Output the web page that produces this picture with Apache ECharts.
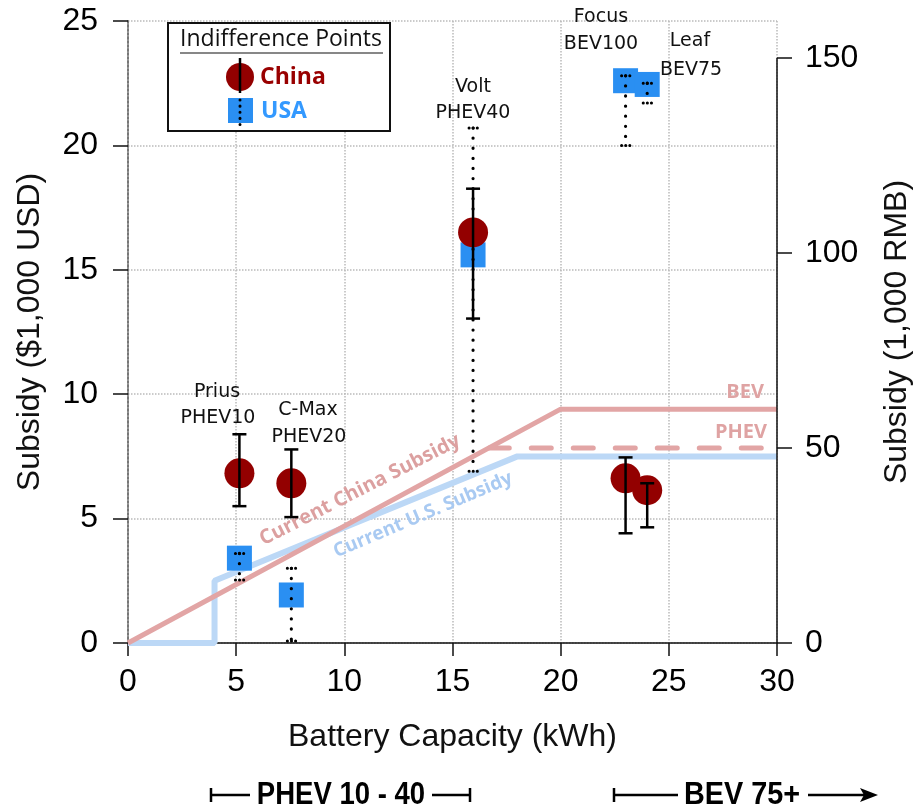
<!DOCTYPE html>
<html>
<head>
<meta charset="utf-8">
<script src="https://cdn.jsdelivr.net/npm/echarts@6/dist/echarts.min.js"></script>
<style>
  html, body { margin: 0; padding: 0; background: #fff; }
  #chart { width: 915px; height: 807px; }
</style>
</head>
<body>
<div id="chart"></div>
<script>
// vehicles, battery size (kWh)
const models     = ['Prius PHEV10', 'C-Max PHEV20', 'Volt PHEV40', 'Focus BEV100', 'Leaf BEV75'];
const batteryKWh = [5.15, 7.55, 15.95, 23.0, 24.0];

// China indifference points ($1,000 USD) with error bars
const chinaMid  = [6.82, 6.42, 16.5, 6.62, 6.14];
const chinaLow  = [5.5, 5.06, 13.04, 4.41, 4.65];
const chinaHigh = [8.39, 7.78, 18.26, 7.46, 6.42];

// USA indifference points with dotted ranges
const usaMid  = [3.41, 1.93, 15.6, 22.6, 22.45];
const usaLow  = [2.53, 0.08, 6.9, 20.0, 21.7];
const usaHigh = [3.6, 3.0, 20.7, 22.8, 22.5];

// current subsidy schedules
const chinaBEV  = [[0, 0], [20, 9.4], [30, 9.4]];
const chinaPHEV = [[16.7, 7.84], [30, 7.84]];
const usSubsidy = [[0, 0], [4, 0], [4, 2.5], [18, 7.5], [30, 7.5]];

// axis ticks
const xTicks   = [0, 30, 5];
const usdTicks = [0, 25, 5];
const rmbRange = [0, 159.5];
const rmbTickValues = [0, 50, 100, 150];
const rmbAxisSpan = [[30, 0], [30, 150]];

const chart = echarts.init(document.getElementById('chart'));

const axisFont = 'Liberation Sans';
const noteFont = 'DejaVu Sans';

function errorBars(params, api) {
    const x = api.value(0);
    const top = api.coord([x, api.value(2)]);
    const bot = api.coord([x, api.value(1)]);
    const st = { stroke: '#000', lineWidth: 2.5 };
    const w = 7;
    return { type: 'group', children: [
        { type: 'line', shape: { x1: top[0], y1: top[1], x2: bot[0], y2: bot[1] }, style: st },
        { type: 'line', shape: { x1: top[0] - w, y1: top[1], x2: top[0] + w, y2: top[1] }, style: st },
        { type: 'line', shape: { x1: bot[0] - w, y1: bot[1], x2: bot[0] + w, y2: bot[1] }, style: st }
    ]};
}

function dottedRanges(params, api) {
    const x = api.value(0);
    const top = api.coord([x, api.value(2)]);
    const bot = api.coord([x, api.value(1)]);
    const dots = { stroke: '#000', lineWidth: 3.2, lineCap: 'round', lineDash: [0.1, 10] };
    const cap = { stroke: '#000', lineWidth: 3, lineCap: 'round', lineDash: [0.1, 4] };
    return { type: 'group', children: [
        { type: 'line', shape: { x1: top[0], y1: top[1], x2: bot[0], y2: bot[1] }, style: dots },
        { type: 'line', shape: { x1: top[0] - 4, y1: top[1], x2: top[0] + 5, y2: top[1] }, style: cap },
        { type: 'line', shape: { x1: bot[0] - 4, y1: bot[1], x2: bot[0] + 5, y2: bot[1] }, style: cap }
    ]};
}

const chinaPts = batteryKWh.map((x, i) => [x, chinaMid[i]]);
const usaPts   = batteryKWh.map((x, i) => [x, usaMid[i]]);
const chinaErr = batteryKWh.map((x, i) => [x, chinaLow[i], chinaHigh[i]]);
const usaRng   = batteryKWh.map((x, i) => [x, usaLow[i], usaHigh[i]]);

function note(text, x, y) {
    return {
        type: 'text', x: x, y: y, z: 50,
        style: { text: text, font: '19px "' + noteFont + '"', fill: '#111', align: 'center', verticalAlign: 'middle' }
    };
}

function bold(text, x, y, size, color, extra) {
    return Object.assign({
        type: 'text', x: x, y: y, z: 21,
        style: { text: text, font: 'bold ' + size + 'px "Open Sans"', fill: color, align: 'left', verticalAlign: 'middle' }
    }, extra || {});
}

const axisName = { fontFamily: axisFont, fontSize: 32, color: '#111' };
const tickLabel = { fontFamily: axisFont, fontSize: 32, color: '#000' };

const option = {
    animation: false,
    grid: { left: 128, right: 138, top: 21, bottom: 164, outerBoundsMode: 'none' },
    xAxis: {
        type: 'value', min: xTicks[0], max: xTicks[1], interval: xTicks[2],
        name: 'Battery Capacity (kWh)', nameLocation: 'middle', nameGap: 78,
        nameTextStyle: axisName,
        axisLine: { lineStyle: { color: '#111', width: 1.5 } },
        axisTick: { length: 13, lineStyle: { color: '#111', width: 1.5 } },
        axisLabel: Object.assign({ margin: 23 }, tickLabel),
        splitLine: { show: true, lineStyle: { type: 'dotted', color: '#bbb', width: 1.5 } }
    },
    yAxis: [{
        type: 'value', min: usdTicks[0], max: usdTicks[1], interval: usdTicks[2],
        name: 'Subsidy ($1,000 USD)', nameLocation: 'middle', nameGap: 82, nameRotate: 90,
        nameTextStyle: axisName,
        axisLine: { show: true, lineStyle: { color: '#777', width: 2, type: 'dotted' } },
        axisTick: { show: true, length: 15, lineStyle: { color: '#111', width: 1.5 } },
        axisLabel: Object.assign({ margin: 30 }, tickLabel),
        splitLine: { show: true, lineStyle: { type: 'dotted', color: '#bbb', width: 1.5 } }
    }, {
        type: 'value', position: 'right', min: rmbRange[0], max: rmbRange[1],
        name: 'Subsidy (1,000 RMB)', nameLocation: 'middle', nameGap: 104, nameRotate: 90,
        nameTextStyle: axisName,
        axisLine: { show: false },
        axisTick: { show: true, length: 15, customValues: rmbTickValues, lineStyle: { color: '#111', width: 1.5 } },
        axisLabel: Object.assign({ margin: 28, customValues: rmbTickValues }, tickLabel),
        splitLine: { show: false }
    }],
    series: [
        {
            type: 'line', data: rmbAxisSpan, yAxisIndex: 1, symbol: 'none', z: 3,
            lineStyle: { color: '#111', width: 1.5 }, silent: true
        },
        {
            name: 'US subsidy', type: 'line', data: usSubsidy, symbol: 'none', z: 2,
            lineStyle: { color: '#bcd8f6', width: 6 }
        },
        {
            name: 'China BEV', type: 'line', data: chinaBEV, symbol: 'none', z: 2,
            lineStyle: { color: '#e2a5a5', width: 5 }
        },
        {
            name: 'China PHEV', type: 'line', data: chinaPHEV, symbol: 'none', z: 2,
            lineStyle: { color: '#e2a5a5', width: 5, type: [20, 22], cap: 'round' }
        },
        {
            name: 'USA', type: 'scatter', data: usaPts, symbol: 'rect', symbolSize: 25, z: 5,
            itemStyle: { color: '#2a8ff2', opacity: 1 }
        },
        {
            name: 'USA range', type: 'custom', data: usaRng, renderItem: dottedRanges, z: 6
        },
        {
            name: 'China', type: 'scatter', data: chinaPts, symbol: 'circle', symbolSize: 30, z: 7,
            itemStyle: { color: '#930000', opacity: 1 }
        },
        {
            name: 'China error', type: 'custom', data: chinaErr, renderItem: errorBars, z: 8
        }
    ],
    graphic: [
        // model labels
        note('Prius', 217, 392), note('PHEV10', 218, 418),
        note('C-Max', 308, 410), note('PHEV20', 309, 437),
        note('Volt', 473, 87), note('PHEV40', 473, 113),
        note('Focus', 601, 17), note('BEV100', 601, 44),
        note('Leaf', 690, 41), note('BEV75', 691, 70),
        // subsidy annotations
        bold('BEV', 764, 392, 20, '#dfa3a3', { style: { text: 'BEV', font: 'bold 20px "Open Sans"', fill: '#dfa3a3', align: 'right', verticalAlign: 'middle' } }),
        bold('PHEV', 767, 432, 20, '#dfa3a3', { style: { text: 'PHEV', font: 'bold 20px "Open Sans"', fill: '#dfa3a3', align: 'right', verticalAlign: 'middle' } }),
        { type: 'text', x: 360, y: 490, rotation: 27 * Math.PI / 180, z: 3,
          style: { text: 'Current China Subsidy', font: 'bold 20px "Open Sans"', fill: '#dca0a0', align: 'center', verticalAlign: 'middle' } },
        { type: 'text', x: 423, y: 515, rotation: 23 * Math.PI / 180, z: 3,
          style: { text: 'Current U.S. Subsidy', font: 'bold 19px "Open Sans"', fill: '#a9caf2', align: 'center', verticalAlign: 'middle' } },
        // legend box
        { type: 'rect', z: 20, shape: { x: 168, y: 23, width: 222, height: 108 },
          style: { fill: '#fff', stroke: '#111', lineWidth: 2 } },
        { type: 'text', z: 21, x: 281, y: 39,
          style: { text: 'Indifference Points', font: '23px "Open Sans"', fill: '#111', align: 'center', verticalAlign: 'middle' } },
        { type: 'line', z: 21, shape: { x1: 180, y1: 53, x2: 383, y2: 53 }, style: { stroke: '#111', lineWidth: 1.2 } },
        { type: 'circle', z: 21, shape: { cx: 240, cy: 77, r: 14 }, style: { fill: '#930000' } },
        { type: 'line', z: 22, shape: { x1: 240, y1: 58, x2: 240, y2: 93 }, style: { stroke: '#000', lineWidth: 2.5 } },
        { type: 'rect', z: 21, shape: { x: 228, y: 98, width: 25, height: 25 }, style: { fill: '#2a8ff2' } },
        { type: 'line', z: 22, shape: { x1: 240, y1: 100, x2: 240, y2: 130 },
          style: { stroke: '#000', lineWidth: 3, lineCap: 'round', lineDash: [0.1, 6] } },
        bold('China', 260, 77, 23, '#990000'),
        bold('USA', 261, 111, 23, '#3399ff'),
        // bottom range annotations
        { type: 'line', shape: { x1: 211, y1: 795, x2: 250, y2: 795 }, style: { stroke: '#000', lineWidth: 2.5 } },
        { type: 'line', shape: { x1: 211, y1: 788, x2: 211, y2: 802 }, style: { stroke: '#000', lineWidth: 2.5 } },
        { type: 'text', x: 341, y: 795, scaleX: 0.86, originX: 0, originY: 0,
          style: { text: 'PHEV 10 - 40', font: 'bold 32px "Liberation Sans"', fill: '#000', align: 'center', verticalAlign: 'middle' } },
        { type: 'line', shape: { x1: 432, y1: 795, x2: 470, y2: 795 }, style: { stroke: '#000', lineWidth: 2.5 } },
        { type: 'line', shape: { x1: 470, y1: 788, x2: 470, y2: 802 }, style: { stroke: '#000', lineWidth: 2.5 } },
        { type: 'line', shape: { x1: 614, y1: 795, x2: 678, y2: 795 }, style: { stroke: '#000', lineWidth: 2.5 } },
        { type: 'line', shape: { x1: 614, y1: 788, x2: 614, y2: 802 }, style: { stroke: '#000', lineWidth: 2.5 } },
        { type: 'text', x: 742, y: 795, scaleX: 0.9, originX: 0, originY: 0,
          style: { text: 'BEV 75+', font: 'bold 32px "Liberation Sans"', fill: '#000', align: 'center', verticalAlign: 'middle' } },
        { type: 'line', shape: { x1: 808, y1: 795, x2: 866, y2: 795 }, style: { stroke: '#000', lineWidth: 2.5 } },
        { type: 'polygon', shape: { points: [[878, 795], [860, 788], [864, 795], [860, 802]] }, style: { fill: '#000' } }
    ]
};

chart.setOption(option);
</script>
</body>
</html>
